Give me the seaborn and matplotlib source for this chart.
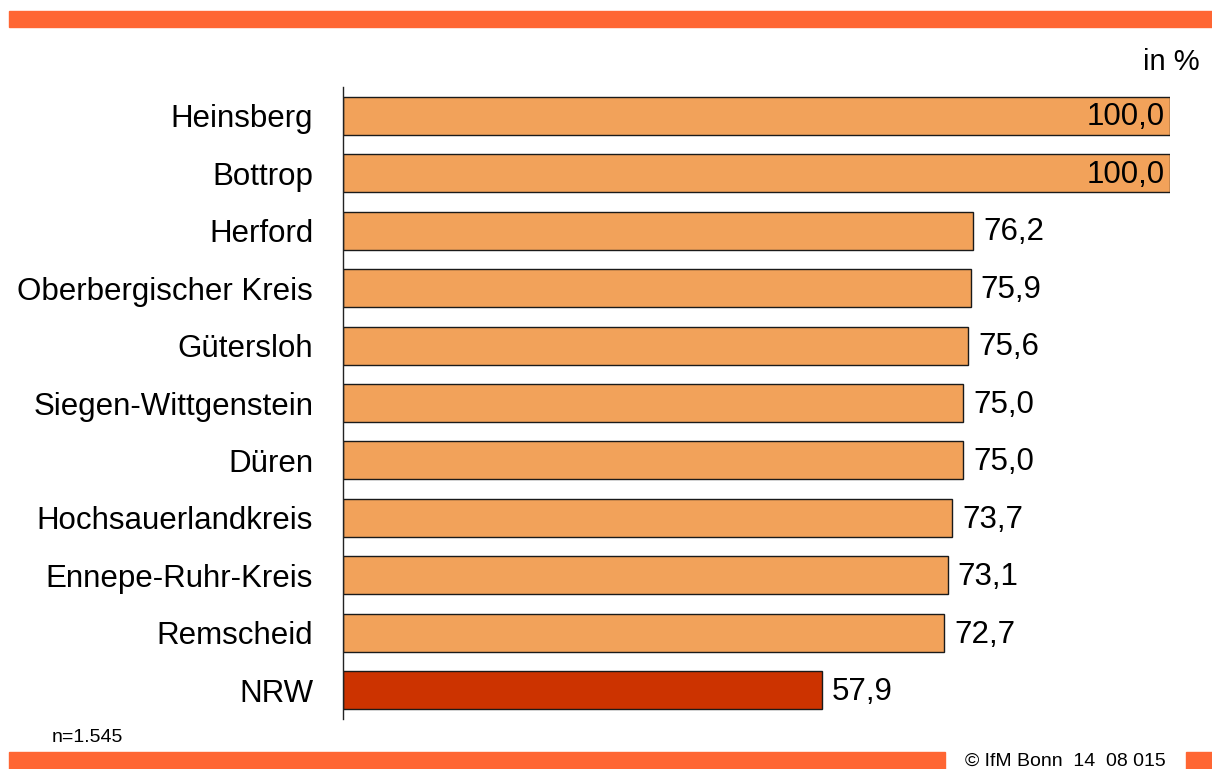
import matplotlib
matplotlib.use("Agg")
import matplotlib.pyplot as plt
import seaborn as sns
import pandas as pd

regions = ["Heinsberg", "Bottrop", "Herford", "Oberbergischer Kreis", "Gütersloh",
           "Siegen-Wittgenstein", "Düren", "Hochsauerlandkreis", "Ennepe-Ruhr-Kreis",
           "Remscheid", "NRW"]
values = [100.0, 100.0, 76.2, 75.9, 75.6, 75.0, 75.0, 73.7, 73.1, 72.7, 57.9]
value_labels = ["100,0", "100,0", "76,2", "75,9", "75,6", "75,0", "75,0", "73,7", "73,1", "72,7", "57,9"]

sns.set_theme(style="white")
plt.rcParams['font.family'] = ['Liberation Sans', 'DejaVu Sans']

df = pd.DataFrame({"region": regions, "value": values})
bar_colors = ["#F2A25A"] * (len(regions) - 1) + ["#CC3300"]

W, H = 1212, 769
fig = plt.figure(figsize=(W / 100, H / 100), dpi=100)
ax = fig.add_axes([343 / W, 1 - 719 / H, (1170 - 343) / W, (719 - 87) / H])

sns.barplot(data=df, x="value", y="region", hue="region", palette=bar_colors,
            legend=False, orient="h", width=0.66, edgecolor="#1a1a1a", linewidth=1.0,
            saturation=1, ax=ax)

ax.set_xlim(0, 100)
ax.set_ylim(len(regions) - 0.5, -0.5)
ax.set_xlabel("")
ax.set_ylabel("")
ax.set_xticks([])
for s in ["top", "right", "bottom"]:
    ax.spines[s].set_visible(False)
ax.spines["left"].set_color("#222222")
ax.spines["left"].set_linewidth(1.0)
ax.tick_params(axis="y", length=0, pad=21.5, labelsize=22.5, labelcolor="black")
for lab in ax.get_yticklabels():
    lab.set_fontfamily(['Liberation Sans', 'DejaVu Sans'])

for i, (v, t) in enumerate(zip(values, value_labels)):
    if v >= 99.9:
        ax.text(v - 0.6, i + 0.03, t, ha="right", va="center", fontsize=22.5, color="black",
                clip_on=False)
    else:
        ax.text(v + 1.2, i + 0.03, t, ha="left", va="center", fontsize=22.5, color="black",
                clip_on=False)

orange = "#FF6633"
# top stripe
fig.patches.append(plt.Rectangle((9 / W, 1 - 27 / H), (W - 9) / W, 16 / H,
                                 transform=fig.transFigure, color=orange, zorder=0))
# bottom stripes
fig.patches.append(plt.Rectangle((9 / W, 0), (945 - 9) / W, 17 / H,
                                 transform=fig.transFigure, color=orange, zorder=0))
fig.patches.append(plt.Rectangle((1186 / W, 0), (W - 1186) / W, 17 / H,
                                 transform=fig.transFigure, color=orange, zorder=0))

fig.text(1200 / W, 1 - 62 / H, "in %", ha="right", va="center", fontsize=21, color="black")
fig.text(52 / W, 1 - 737 / H, "n=1.545", ha="left", va="center", fontsize=14, color="black")
fig.text(1166 / W, 1 - 761 / H, "© IfM Bonn  14  08 015", ha="right", va="center",
         fontsize=14, color="black")

fig.savefig("out.png", dpi=100)
